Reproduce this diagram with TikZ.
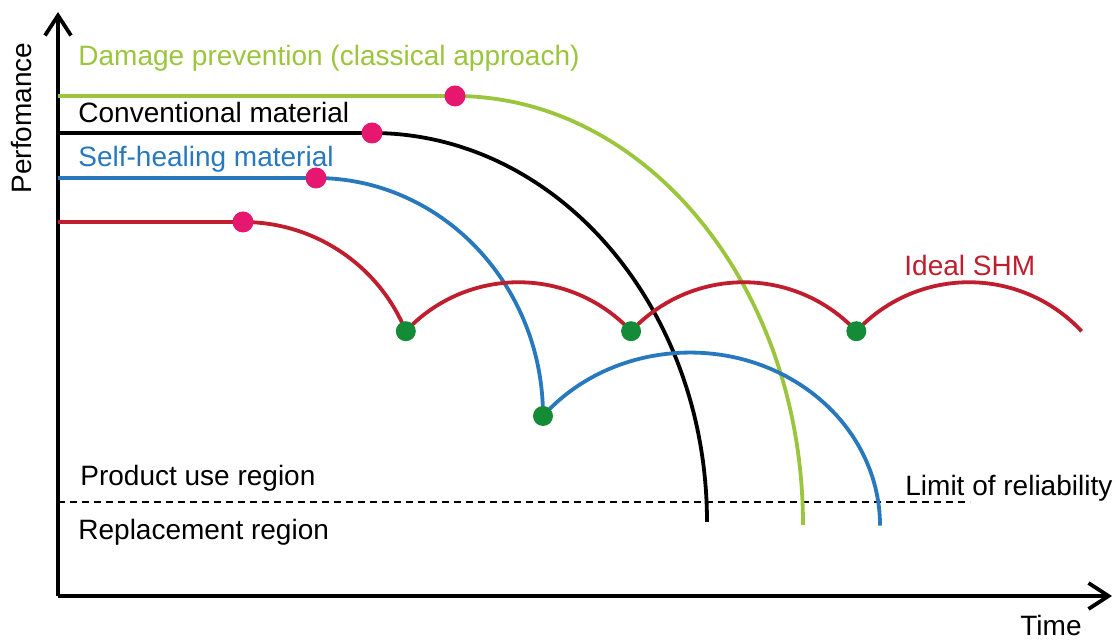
\documentclass[tikz,border=0pt]{standalone}
\usepackage{fontspec}
\setmainfont{Liberation Sans}
\usetikzlibrary{arrows.meta}
\definecolor{dmggreen}{RGB}{155,197,61}
\definecolor{healblue}{RGB}{40,120,190}
\definecolor{shmred}{RGB}{190,30,45}
\definecolor{hitpink}{RGB}{229,23,111}
\definecolor{fixgreen}{RGB}{20,140,55}
\newcommand\PerfAxis[4]{%
    \coordinate (Origin) at (#1,#2);
    \coordinate (TimeEnd) at (#3,#2);
    \coordinate (PerfEnd) at (#1,#4);
    \draw[->,line width=1.9pt] (Origin) -- (TimeEnd);
    \draw[->,line width=1.9pt] (Origin) -- (PerfEnd);
}
\newcommand\HitDot[1]{\fill[hitpink] (#1) circle (10.5);}
\newcommand\FixDot[1]{\fill[fixgreen] (#1) circle (10);}

\begin{document}
\begin{tikzpicture}[x=0.5pt,y=0.5pt,>={Straight Barb[length=10pt,width=13pt]},
    curve/.style={line width=1.9pt},
    txt/.style={anchor=west,inner sep=0pt,font=\fontsize{14}{16}\selectfont}]
    \useasboundingbox (0,0) rectangle (1115,642);
    \PerfAxis{58}{46}{1112}{630}
    \node[txt,anchor=center,rotate=90] (perf) at (22,524) {Perfomance};
    \node[txt] (time) at (1020,17) {Time};
    % limit of reliability
    \coordinate (LimStart) at (58,140);
    \coordinate (LimEnd) at (970,140);
    \draw[line width=0.8pt,dash pattern=on 3.5pt off 2.5pt] (LimStart) -- (LimEnd);
    \node[txt] (use) at (80,164) {Product use region};
    \node[txt] (repl) at (78,110) {Replacement region};
    \node[txt] (lim) at (905,154) {Limit of reliability};
    \begin{scope}[color=dmggreen] % classical
        \draw[curve] (58,546) -- (455,546) coordinate(a)
            arc[start angle=90,end angle=0,x radius=348,y radius=429];
        \node[txt] (dmg) at (78,584) {Damage prevention (classical approach)};
    \end{scope}
    \HitDot{a}
    \begin{scope}[color=black] % conventional
        \draw[curve] (58,509) -- (372,509) coordinate(b)
            arc[start angle=90,end angle=0,x radius=335,y radius=389];
        \node[txt] (conv) at (78,529) {Conventional material};
    \end{scope}
    \HitDot{b}
    \begin{scope}[color=healblue] % self-healing
        \draw[curve] (58,464) -- (316,464) coordinate(c)
            arc[start angle=90,end angle=0,x radius=227,y radius=238] coordinate(c1)
            arc[start angle=140.7,end angle=0,x radius=190,y radius=173];
        \node[txt] (heal) at (78,483) {Self-healing material};
    \end{scope}
    \HitDot{c}
    \FixDot{c1}
    \begin{scope}[color=shmred] % ideal SHM
        \draw[curve] (58,420) -- (243,420) coordinate(d)
            arc[start angle=90,end angle=22.3,radius=176] coordinate(d1)
            arc[start angle=137,end angle=43,radius=154] coordinate(d2)
            arc[start angle=137,end angle=43,radius=154] coordinate(d3)
            arc[start angle=137,end angle=43,radius=154];
        \node[txt] (shm) at (904,377) {Ideal SHM};
    \end{scope}
    \HitDot{d}
    \foreach \p in {d1,d2,d3} {\FixDot{\p}}
\end{tikzpicture}
\end{document}
